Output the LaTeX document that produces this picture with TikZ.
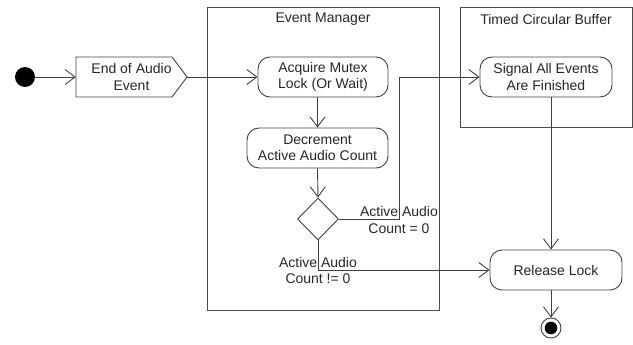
\documentclass[tikz,border=0pt]{standalone}
\usepackage{fontspec}
\setmainfont{Liberation Sans}
\usetikzlibrary{arrows.meta,shapes.geometric}
\begin{document}
\begin{tikzpicture}[x=1pt,y=-1pt,
  every node/.style={font=\fontsize{14}{16.5}\selectfont, text=black!85, inner sep=0pt},
  act/.style={draw=black!75, line width=0.9pt, rounded corners=12pt, align=center, minimum height=40},
  lane/.style={draw=black!70, line width=0.9pt},
  flow/.style={draw=black!75, line width=0.9pt, -{Straight Barb[length=10pt,width=15pt,line width=0.9pt]}},
  plainline/.style={draw=black!75, line width=0.9pt},
  lbl/.style={align=center}
]
\useasboundingbox (0,0) rectangle (633,345);
% swimlanes
\draw[lane] (207,7) rectangle (439,310);
\node (emt) at (323,19) {Event Manager};
\draw[lane] (460,7) rectangle (632,127);
\node (tcb) at (546,19) {Timed Circular Buffer};
% start
\node[circle, fill=black, minimum size=20] (start) at (25,77) {};
% send signal shape
\draw[plainline] (76,57) -- (172,57) -- (187,77) -- (172,97) -- (76,97) -- cycle;
\node[minimum width=111, minimum height=40, align=center] (eoa) at (131.5,77) {End of Audio\\Event};
% actions
\node[act, minimum width=130] (acq) at (323,77) {Acquire Mutex\\Lock (Or Wait)};
\node[act, minimum width=141] (dec) at (317.5,148) {Decrement\\Active Audio Count};
\node[diamond, draw=black!75, line width=0.9pt, minimum width=41, minimum height=42] (dia) at (318,219) {};
\node[act, minimum width=132] (sig) at (546,77) {Signal All Events\\Are Finished};
\node[act, minimum width=132] (rel) at (556,270) {Release Lock};
% end
\node[circle, draw=black!75, line width=0.9pt, minimum size=20] (endc) at (551,328) {};
\fill[black] (endc.center) circle (6.3);
\coordinate (bend) at (399,219);
% flows
\draw[flow] (start) -- (eoa.west);
\draw[flow] (eoa.east) -- (acq.west);
\draw[flow] (dec.north |- acq.south) -- (dec.north);
\draw[flow] (dec.south) -- (dia.north);
\draw[flow] (dia.east) -- (bend) |- (sig.west);
\draw[flow] (dia.south) |- (rel.west);
\draw[flow] (endc |- sig.south) -- (endc |- rel.north);
\draw[flow] (endc |- rel.south) -- (endc.north);
% guard labels
\node[lbl] (g0) at (399,220) {Active Audio\\Count = 0};
\node[lbl] (g1) at (318,270.5) {Active Audio\\Count != 0};
\end{tikzpicture}
\end{document}
